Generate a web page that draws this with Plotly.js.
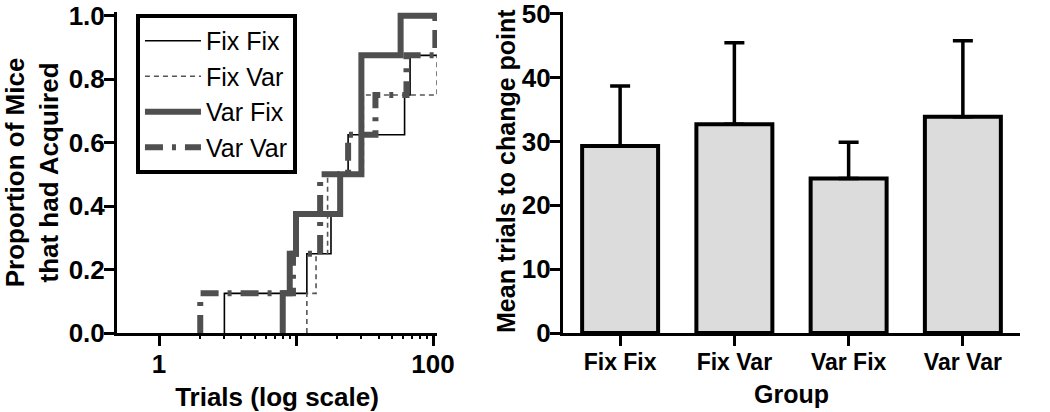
<!DOCTYPE html>
<html>
<head>
<meta charset="utf-8">
<script src="https://cdn.plot.ly/plotly-3.0.1.min.js"></script>
<style>html,body{margin:0;padding:0;background:#fff;}#chart{width:1050px;height:412px;}</style>
</head>
<body>
<div id="chart"></div>
<script>
// ---- Left panel: cumulative proportion of mice that had acquired (step curves) ----
const fixFixTrials = [3, 3, 12, 18, 21, 24, 62, 68, 107];
const fixFixProp   = [0, 0.125, 0.25, 0.375, 0.5, 0.625, 0.75, 0.875, 0.875];

const fixVarTrials = [12, 12, 14, 17, 31, 107];
const fixVarProp   = [0, 0.125, 0.25, 0.5, 0.75, 0.875];

const varFixTrials = [8, 8, 9, 10, 21, 30, 58, 107];
const varFixProp   = [0, 0.125, 0.25, 0.375, 0.5, 0.875, 1.0, 1.0];

const varVarTrials = [2, 2, 9.5, 15, 24, 38, 64, 104];
const varVarProp   = [0, 0.125, 0.25, 0.5, 0.625, 0.75, 0.875, 1.0];

// ---- Right panel: mean trials to change point ----
const groups     = ['Fix Fix', 'Fix Var', 'Var Fix', 'Var Var'];
const meanTrials = [29.3, 32.7, 24.2, 33.9];
const semTrials  = [9.4, 12.8, 5.7, 11.9];

const xTickVals = [1, 10, 100];
const xTickText = ['1', '', '100'];

const FONT = 'Liberation Sans, Arial, Helvetica, sans-serif';
const GRAY = '#4f4f4f';

const minorVals = [];
[1, 10].forEach(d => { for (let k = 2; k <= 9; k++) minorVals.push(d * k); });

const traces = [
  {x: fixFixTrials, y: fixFixProp, name: 'Fix Fix', type: 'scatter', mode: 'lines',
   line: {shape: 'hv', color: '#000000', width: 1.6}},
  {x: fixVarTrials, y: fixVarProp, name: 'Fix Var', type: 'scatter', mode: 'lines',
   line: {shape: 'hv', color: '#555555', width: 1.6, dash: '5px,4px'}},
  {x: varFixTrials, y: varFixProp, name: 'Var Fix', type: 'scatter', mode: 'lines',
   line: {shape: 'hv', color: GRAY, width: 6}},
  {x: varVarTrials, y: varVarProp, name: 'Var Var', type: 'scatter', mode: 'lines',
   line: {shape: 'hv', color: GRAY, width: 6, dash: '18px,9px,4px,9px'}},
  // invisible carrier so the minor-tick overlay axis is drawn
  {x: fixFixTrials, y: fixFixProp, xaxis: 'x3', yaxis: 'y', type: 'scatter', mode: 'lines',
   line: {width: 0, color: 'rgba(0,0,0,0)'}, showlegend: false, hoverinfo: 'skip'},
  {x: groups, y: meanTrials, type: 'bar', xaxis: 'x2', yaxis: 'y2', showlegend: false,
   marker: {color: '#dcdcdc', line: {color: '#000000', width: 4}},
   error_y: {type: 'data', symmetric: false, array: semTrials, arrayminus: [0, 0, 0, 0],
             color: '#000000', thickness: 3.5, width: 10}}
];

function tf(size) { return {family: FONT, size: size, color: '#000000', weight: 'bold'}; }

const axisCommon = {
  showline: true, linecolor: '#000000', linewidth: 3,
  ticks: 'outside', ticklen: 10, tickwidth: 3, tickcolor: '#000000',
  showgrid: false, zeroline: false,
  tickfont: tf(26), ticklabeloverflow: 'allow', ticklabelstandoff: -4
};

const xRange = [-0.3066, 2.0292];

const layout = {
  width: 1050, height: 412,
  margin: {l: 117, r: 30, t: 12, b: 79, pad: 0},
  paper_bgcolor: '#ffffff', plot_bgcolor: '#ffffff',
  font: {family: FONT, color: '#000000'},
  showlegend: true,
  legend: {
    x: 0.021, y: 0.994, xanchor: 'left', yanchor: 'top',
    bordercolor: '#000000', borderwidth: 4, bgcolor: '#ffffff',
    font: {family: FONT, size: 25, color: '#000000'},
    itemwidth: 56
  },
  xaxis: Object.assign({}, axisCommon, {
    domain: [0, 0.3544], type: 'log', range: xRange,
    tickmode: 'array', tickvals: xTickVals, ticktext: xTickText,
    title: {text: 'Trials (log scale)', standoff: 12, font: tf(26)}
  }),
  xaxis3: {
    overlaying: 'x', anchor: 'y', domain: [0, 0.3544], type: 'log', range: xRange,
    tickmode: 'array', tickvals: minorVals, showticklabels: false,
    ticks: 'outside', ticklen: 5, tickwidth: 2, tickcolor: '#000000',
    showline: false, showgrid: false, zeroline: false
  },
  yaxis: Object.assign({}, axisCommon, {
    range: [0, 1.0117], tickmode: 'linear', tick0: 0, dtick: 0.2, tickformat: '.1f',
    ticklabelstandoff: -6,
    title: {text: 'Proportion of Mice<br>that had Acquired', standoff: 17, font: tf(26)}
  }),
  xaxis2: Object.assign({}, axisCommon, {
    domain: [0.4939, 1], anchor: 'y2', type: 'category', range: [-0.5, 3.5],
    tickfont: tf(23),
    title: {text: 'Group', standoff: 12, font: tf(25)}
  }),
  yaxis2: Object.assign({}, axisCommon, {
    anchor: 'x2', range: [0, 50.31], tickmode: 'linear', tick0: 0, dtick: 10,
    ticklabelstandoff: -6
  }),
  annotations: [
    {text: 'Mean trials to change point', xref: 'paper', yref: 'paper',
     x: (506 - 117) / 903, y: (333 - 171) / 321, xanchor: 'center', yanchor: 'middle',
     textangle: -90, showarrow: false, font: tf(25)}
  ],
  bargap: 0.335
};

Plotly.newPlot('chart', traces, layout, {displayModeBar: false, staticPlot: true});
</script>
</body>
</html>
